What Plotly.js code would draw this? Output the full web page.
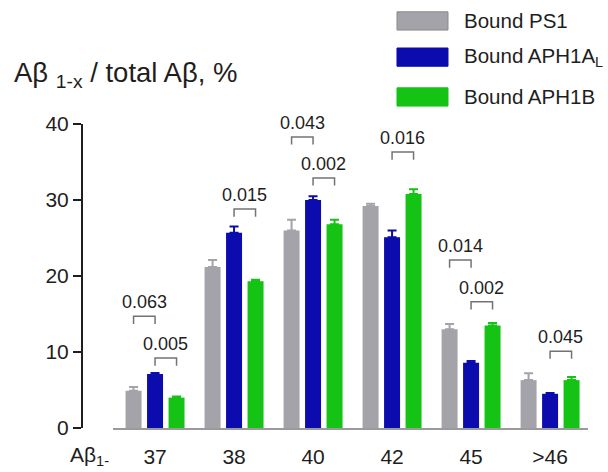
<!DOCTYPE html>
<html>
<head>
<meta charset="utf-8">
<script src="https://cdn.plot.ly/plotly-3.0.1.min.js"></script>
<style>html,body{margin:0;padding:0;background:#fff;}#chart{width:608px;height:472px;}</style>
</head>
<body>
<div id="chart"></div>
<script>
// ---- data ----
const categories = ["37", "38", "40", "42", "45", ">46"];
const seriesNames = ["Bound PS1", "Bound APH1A<sub>L</sub>", "Bound APH1B"];
const ps1 = [4.9, 21.2, 26.0, 29.2, 13.0, 6.3];
const ps1Err = [0.5, 0.9, 1.4, 0.3, 0.7, 0.9];
const aph1a = [7.1, 25.7, 30.0, 25.1, 8.6, 4.5];
const aph1aErr = [0.15, 0.8, 0.5, 0.9, 0.2, 0.1];
const aph1b = [4.0, 19.3, 26.8, 30.8, 13.5, 6.3];
const aph1bErr = [0.15, 0.2, 0.6, 0.6, 0.3, 0.4];
// comparisons: group index, series from, series to, p label, bracket level (y)
const cmpGroup = [0, 0, 1, 2, 2, 3, 4, 4, 5];
const cmpFrom  = [0, 1, 1, 0, 1, 1, 0, 1, 1];
const cmpTo    = [1, 2, 2, 1, 2, 2, 1, 2, 2];
const cmpLabel = ["0.063", "0.005", "0.015", "0.043", "0.002", "0.016", "0.014", "0.002", "0.045"];
const cmpLevel = [14.7, 9.2, 28.8, 38.3, 32.9, 36.3, 22.1, 16.6, 10.1];

const colors = ["#a3a3a9", "#0b0bae", "#14c314"];
const values = [ps1, aph1a, aph1b];
const errs = [ps1Err, aph1aErr, aph1bErr];

const FONT = "Liberation Sans, Arial, sans-serif";
const BARGAP = 0.184;
const slot = (1 - BARGAP) / 3;

const traces = values.map((v, k) => ({
  type: "bar",
  name: seriesNames[k],
  x: categories,
  y: v,
  marker: {color: colors[k], line: {width: 0}},
  error_y: {type: "data", array: errs[k], arrayminus: v.map(() => 0), symmetric: false,
            color: colors[k], thickness: 2, width: 4.5},
  showlegend: false,
  hoverinfo: "skip"
}));

const shapes = [];
const annotations = [];
for (let i = 0; i < cmpGroup.length; i++) {
  const x0 = cmpGroup[i] + (cmpFrom[i] - 1) * slot;
  const x1 = cmpGroup[i] + (cmpTo[i] - 1) * slot;
  const top = cmpLevel[i];
  const leg = top - 1.0;
  shapes.push({type: "path", xref: "x", yref: "y",
    path: `M ${x0} ${leg} L ${x0} ${top} L ${x1} ${top} L ${x1} ${leg}`,
    line: {color: "#737373", width: 1.5}});
  annotations.push({xref: "x", yref: "y", x: (x0 + x1) / 2, y: top, yanchor: "bottom", yshift: 2,
    text: cmpLabel[i], showarrow: false, font: {family: FONT, size: 18, color: "#1e1e1e"}});
}

// legend (drawn manually)
const legY = [1.339, 1.220, 1.089];
const legLabels = ["Bound PS1", "Bound APH1A<sub>L</sub>", "Bound APH1B"];
for (let k = 0; k < 3; k++) {
  shapes.push({type: "rect", xref: "paper", yref: "paper",
    x0: 0.6225, x1: 0.7233, y0: legY[k] - 0.03, y1: legY[k] + 0.03,
    fillcolor: colors[k], line: {color: k === 0 ? "#8a8a8a" : colors[k], width: 1}});
  annotations.push({xref: "paper", yref: "paper", x: 0.751, y: legY[k], xanchor: "left", yanchor: "middle",
    text: legLabels[k], showarrow: false, font: {family: FONT, size: 20.5, color: "#1e1e1e"}});
}

// axis title (horizontal at top-left) and x label prefix
annotations.push({xref: "paper", yref: "paper", x: -0.138, y: 1.164, xanchor: "left", yanchor: "middle",
  text: "Aβ <sub>1-x</sub> / total Aβ, %", showarrow: false, font: {family: FONT, size: 27.5, color: "#1e1e1e"}});
annotations.push({xref: "paper", yref: "paper", x: -0.0277, y: -0.092, xanchor: "left", yanchor: "middle",
  text: "Aβ<sub>1-</sub>", showarrow: false, font: {family: FONT, size: 21, color: "#1e1e1e"}});

const layout = {
  width: 608, height: 472,
  margin: {l: 82, r: 20, t: 124, b: 44, pad: 0},
  paper_bgcolor: "#ffffff", plot_bgcolor: "#ffffff",
  barmode: "group", bargap: BARGAP, bargroupgap: 0.256,
  font: {family: FONT, color: "#1e1e1e"},
  xaxis: {type: "category", domain: [0.0613, 1], range: [-0.532, 5.48],
    showline: true, linecolor: "#9a9a9a", linewidth: 2, ticks: "", showgrid: false, zeroline: false,
    ticklabelstandoff: 9,
    tickfont: {family: FONT, size: 21, color: "#1e1e1e"}, fixedrange: true},
  yaxis: {anchor: "free", position: 0, range: [0, 40], tickvals: [0, 10, 20, 30, 40],
    showline: true, linecolor: "#1e1e1e", linewidth: 2, ticks: "outside", ticklen: 8, tickwidth: 2,
    tickcolor: "#1e1e1e", showgrid: false, zeroline: false,
    tickfont: {family: FONT, size: 21, color: "#1e1e1e"}, fixedrange: true},
  shapes: shapes,
  annotations: annotations,
  showlegend: false
};

Plotly.newPlot("chart", traces, layout, {displayModeBar: false, staticPlot: true});
</script>
</body>
</html>
